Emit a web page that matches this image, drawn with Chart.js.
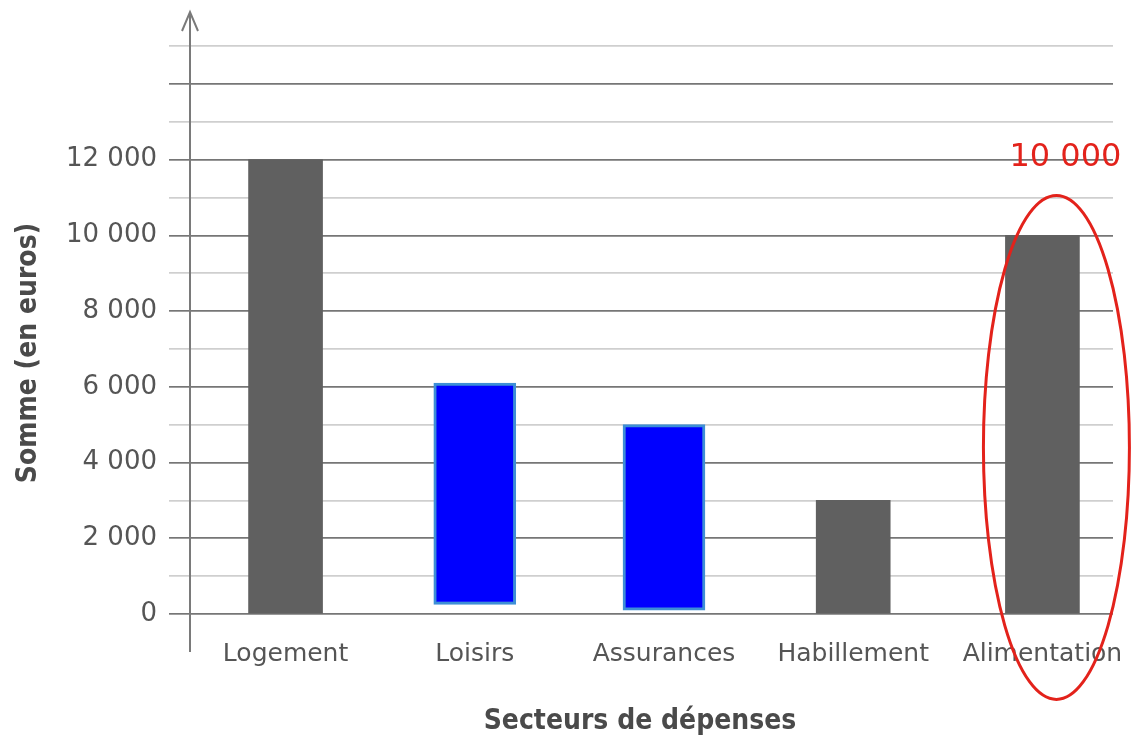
<!DOCTYPE html>
<html>
<head>
<meta charset="utf-8">
<script src="https://cdn.jsdelivr.net/npm/chart.js@4"></script>
<style>
    html, body { margin: 0; padding: 0; background: #fff; }
    #wrap { width: 1132px; height: 747px; position: relative; }
</style>
</head>
<body>
<div id="wrap"><canvas id="chart"></canvas></div>
<script>
// Data
const categories = ['Logement', 'Loisirs', 'Assurances', 'Habillement', 'Alimentation'];
const grayValues = [12000, null, null, 3000, 10000];
// blue bars float slightly above zero in the original
const blueValues = [null, [250, 6100], [100, 5000], null, null];
const yTicks = [0, 1000, 2000, 3000, 4000, 5000, 6000, 7000, 8000, 9000, 10000, 11000, 12000, 13000, 14000, 15000];
const labelledTicks = [0, 2000, 4000, 6000, 8000, 10000, 12000];
const highlightIndex = 4;
const highlightText = '10 000';

const fmt = v => String(v).replace(/\B(?=(\d{3})+(?!\d))/g, ' ');

/**
 * Axis arrow, axis titles and the red highlight
 */
const decorPlugin = {
    id: 'decor',
    afterDraw(chart) {
        const { ctx, chartArea, scales } = chart;
        const x0 = chartArea.left;
        ctx.save();

        // vertical axis with arrow
        ctx.strokeStyle = '#7a7a7a';
        ctx.lineWidth = 2;
        ctx.beginPath();
        ctx.moveTo(x0, 652);
        ctx.lineTo(x0, 14);
        ctx.stroke();
        ctx.beginPath();
        ctx.moveTo(x0 - 8, 31);
        ctx.lineTo(x0, 12);
        ctx.lineTo(x0 + 8, 31);
        ctx.stroke();

        // axis titles
        ctx.fillStyle = '#4a4a4a';
        ctx.font = 'bold 28px "DejaVu Sans Condensed", "DejaVu Sans"';
        ctx.textAlign = 'center';
        ctx.textBaseline = 'middle';
        ctx.fillText('Secteurs de dépenses', 640, 722);
        ctx.translate(29, 353);
        ctx.rotate(-Math.PI / 2);
        ctx.fillText('Somme (en euros)', 0, 0);
        ctx.setTransform(1, 0, 0, 1, 0, 0);

        // red highlight around the last bar
        const cx = scales.x.getPixelForValue(highlightIndex) + 14;
        const cy = scales.y.getPixelForValue(4400);
        ctx.strokeStyle = '#e3221b';
        ctx.lineWidth = 3;
        ctx.beginPath();
        ctx.ellipse(cx, cy, 73, 252, 0, 0, Math.PI * 2);
        ctx.stroke();

        ctx.fillStyle = '#e3221b';
        ctx.font = '32px "DejaVu Sans"';
        ctx.textAlign = 'center';
        ctx.textBaseline = 'alphabetic';
        ctx.fillText(highlightText, cx + 9, 166);
        ctx.restore();
    }
};

const isMajor = v => v % 2000 === 0;

new Chart(document.getElementById('chart'), {
    type: 'bar',
    data: {
        labels: categories,
        datasets: [
            {
                data: grayValues.map((v, i) => ({ x: i, y: v })),
                backgroundColor: '#606060',
                barThickness: 74,
                grouped: false
            },
            {
                data: blueValues.map((v, i) => ({ x: i, y: v })),
                backgroundColor: '#0000ff',
                borderColor: '#3d8fd6',
                borderWidth: 3,
                borderSkipped: false,
                barThickness: 82,
                grouped: false
            }
        ]
    },
    options: {
        responsive: true,
        maintainAspectRatio: false,
        animation: false,
        layout: { padding: { top: 12, right: 19, left: 0, bottom: 0 } },
        plugins: {
            legend: { display: false },
            tooltip: { enabled: false }
        },
        scales: {
            x: {
                type: 'linear',
                offset: false,
                min: -0.505,
                max: 4.373,
                afterBuildTicks: scale => {
                    scale.ticks = categories.map((c, i) => ({ value: i }));
                },
                afterFit: scale => {
                    scale.height = 133;
                    scale.paddingLeft = 0;
                    scale.paddingRight = 0;
                },
                grid: { display: false },
                border: { display: false },
                ticks: {
                    color: '#555',
                    font: { family: '"DejaVu Sans"', size: 25 },
                    padding: 17,
                    maxRotation: 0,
                    autoSkip: false,
                    callback: v => categories[v] ?? ''
                }
            },
            y: {
                min: 0,
                max: 15900,
                afterBuildTicks: scale => {
                    scale.ticks = yTicks.map(v => ({ value: v }));
                },
                afterFit: scale => {
                    scale.width = 190;
                    scale.paddingTop = 0;
                    scale.paddingBottom = 0;
                },
                border: { display: false },
                grid: {
                    color: c => isMajor(c.tick.value) ? '#767676' : '#cfcfcf',
                    tickColor: c => isMajor(c.tick.value) ? '#767676' : '#cfcfcf',
                    lineWidth: 1.7,
                    tickLength: 21
                },
                ticks: {
                    color: '#555',
                    font: { family: '"DejaVu Sans"', size: 26 },
                    padding: 12,
                    autoSkip: false,
                    callback: v => labelledTicks.includes(v) ? fmt(v) : ''
                }
            }
        }
    },
    plugins: [decorPlugin]
});
</script>
</body>
</html>
